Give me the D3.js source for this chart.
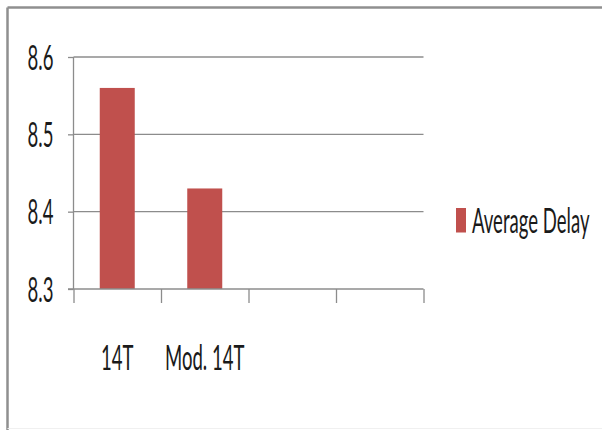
<!DOCTYPE html>
<html>
<head>
<meta charset="utf-8">
<script src="https://cdn.jsdelivr.net/npm/d3@7"></script>
<style>
  html, body { margin: 0; padding: 0; background: #fff; }
  svg { display: block; }
  text { font-family: Lato, "Open Sans", sans-serif; fill: #1a1a1a; }
</style>
</head>
<body>
<svg id="chart" width="602" height="430"></svg>
<script>
// Average delay per cell design (four category slots, two filled)
const categories = ["14T", "Mod. 14T", "", ""];
const averageDelay = [8.56, 8.43, null, null];
const yTicks = [8.3, 8.4, 8.5, 8.6];
const seriesName = "Average Delay";

const W = 602, H = 430;
const plot = { left: 73.5, right: 423.5, top: 57, bottom: 289 };
const barColor = "#c0504d";
const lineColor = "#8c8c8c";
const fontSize = 35;      // tall, narrow glyphs
const squeeze = 0.53;     // horizontal compression of the labels

const svg = d3.select("#chart");

// outer frame (top and left edges)
svg.append("line").attr("x1", 7.5).attr("x2", W).attr("y1", 7.5).attr("y2", 7.5)
  .attr("stroke", "#8f8f8f").attr("stroke-width", 2.5);
svg.append("line").attr("x1", 7.5).attr("x2", 7.5).attr("y1", 7.5).attr("y2", H)
  .attr("stroke", "#8f8f8f").attr("stroke-width", 2.5);
svg.append("line").attr("x1", 7.5).attr("x2", W).attr("y1", 428.5).attr("y2", 428.5)
  .attr("stroke", "#f0f0f0").attr("stroke-width", 1);

const y = d3.scaleLinear().domain([8.3, 8.6]).range([plot.bottom, plot.top]);
const x = d3.scaleBand().domain(d3.range(categories.length))
  .range([plot.left, plot.right]).paddingInner(0.6).paddingOuter(0.3);
const xEdge = d3.scaleLinear().domain([0, categories.length]).range([plot.left, plot.right]);

// horizontal gridlines
svg.append("g").selectAll("line").data(yTicks.filter(v => v > 8.3)).join("line")
  .attr("x1", plot.left).attr("x2", plot.right)
  .attr("y1", d => y(d)).attr("y2", d => y(d))
  .attr("stroke", lineColor).attr("stroke-width", 1.3);

// bars
svg.append("g").selectAll("rect")
  .data(averageDelay.map((v, i) => ({ v, i })).filter(d => d.v != null))
  .join("rect")
  .attr("x", d => x(d.i)).attr("width", x.bandwidth())
  .attr("y", d => y(d.v)).attr("height", d => y(8.3) - y(d.v))
  .attr("fill", barColor);

// y axis: line and short ticks
const yAxis = svg.append("g").attr("transform", `translate(${plot.left},0)`)
  .call(d3.axisLeft(y).tickValues(yTicks).tickSize(5.5).tickFormat(""));
yAxis.selectAll("path, line").attr("stroke", lineColor).attr("stroke-width", 1.3);
yAxis.select(".domain").attr("d", `M0,${plot.top}V${plot.bottom}`);

// x axis: baseline with ticks at category boundaries
const xAxis = svg.append("g").attr("transform", `translate(0,${plot.bottom})`)
  .call(d3.axisBottom(xEdge).tickValues(d3.range(categories.length + 1)).tickSize(14).tickFormat(""));
xAxis.selectAll("path, line").attr("stroke", lineColor).attr("stroke-width", 1.3);
xAxis.select(".domain").attr("d", `M${plot.left - 5.5},0H${plot.right}`);

// y tick labels
svg.append("g").selectAll("text").data(yTicks).join("text")
  .attr("transform", d => `translate(53.5,${y(d) + 12.5}) scale(${squeeze},1)`)
  .attr("text-anchor", "end").attr("font-size", fontSize)
  .text(d => d.toFixed(1));

// category labels
svg.append("g").selectAll("text").data(categories).join("text")
  .attr("transform", (d, i) => `translate(${x(i) + x.bandwidth() / 2},369.5) scale(${squeeze},1)`)
  .attr("text-anchor", "middle").attr("font-size", fontSize)
  .text(d => d);

// legend
const legend = svg.append("g");
legend.append("rect").attr("x", 456).attr("y", 208).attr("width", 10).attr("height", 24.5)
  .attr("fill", barColor);
legend.append("text")
  .attr("transform", `translate(472,232.7) scale(${squeeze},1)`)
  .attr("font-size", fontSize).text(seriesName);
</script>
</body>
</html>
